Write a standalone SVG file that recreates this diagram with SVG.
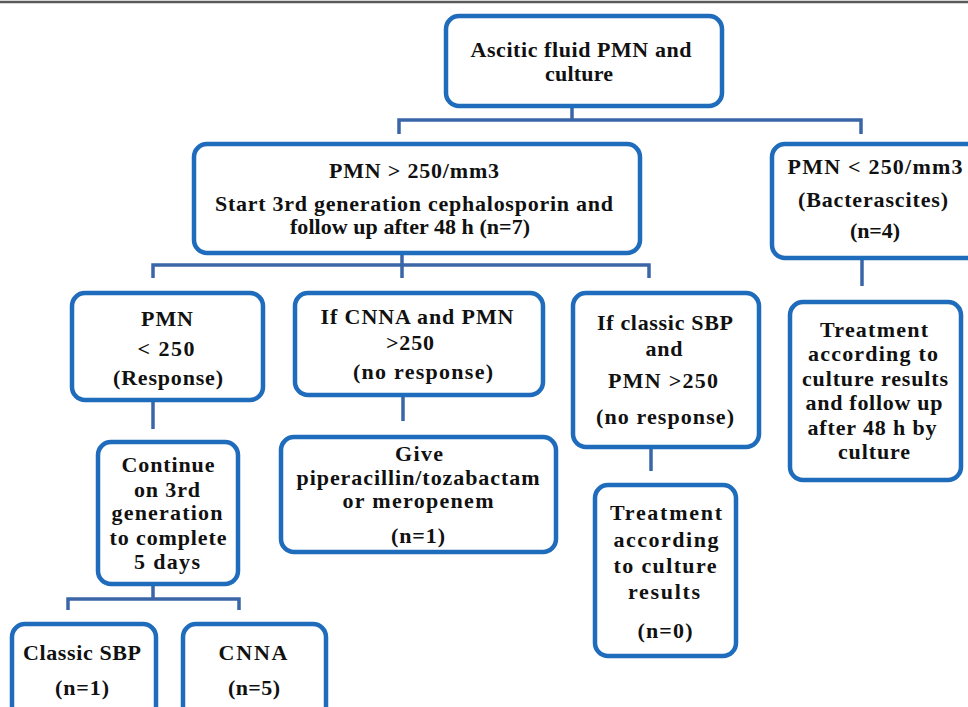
<svg xmlns="http://www.w3.org/2000/svg" width="968" height="707" viewBox="0 0 968 707">
<style>
.box{fill:#fff;stroke:#1f6cbd;stroke-width:4.5}
.t{font-family:"Liberation Serif","Times New Roman",serif;font-weight:bold;font-size:22px;fill:#111;text-anchor:middle;dominant-baseline:central}
.c{fill:none;stroke:#3a66a8;stroke-width:3.5}
</style>
<rect x="0" y="0" width="968" height="707" fill="#fff"/>
<line x1="0" y1="2" x2="968" y2="2" stroke="#5a5a5a" stroke-width="2.5"/>
<g id="connectors">
<path class="c" d="M572,106 V120 M399,134 V120 H861 V134"/>
<path class="c" d="M402,253 V278 M153,278 V265 H649 V278"/>
<path class="c" d="M862,258 V286"/>
<path class="c" d="M153,400 V429"/>
<path class="c" d="M403,395 V421"/>
<path class="c" d="M651,447 V471"/>
<path class="c" d="M153,584 V599 M68,610 V599 H239 V610"/>
</g>
<g id="n_top">
<rect class="box" x="446" y="16" width="276" height="90" rx="13"/>
<text class="t" x="581" y="49" textLength="221" lengthAdjust="spacing">Ascitic fluid PMN and</text>
<text class="t" x="579" y="73" textLength="68" lengthAdjust="spacing">culture</text>
</g>
<g id="n_pmn_gt">
<rect class="box" x="194" y="144" width="446" height="109" rx="13"/>
<text class="t" x="414" y="170" textLength="170" lengthAdjust="spacing">PMN &gt; 250/mm3</text>
<text class="t" x="414" y="203" textLength="398" lengthAdjust="spacing">Start 3rd generation cephalosporin and</text>
<text class="t" x="410" y="226" textLength="240" lengthAdjust="spacing">follow up after 48 h (n=7)</text>
</g>
<g id="n_pmn_lt">
<rect class="box" x="772" y="144" width="214" height="114" rx="13"/>
<text class="t" x="875" y="166" textLength="175" lengthAdjust="spacing">PMN &lt; 250/mm3</text>
<text class="t" x="873" y="199" textLength="150" lengthAdjust="spacing">(Bacterascites)</text>
<text class="t" x="875" y="230" textLength="50" lengthAdjust="spacing">(n=4)</text>
</g>
<g id="n_response">
<rect class="box" x="72" y="293" width="191" height="107" rx="13"/>
<text class="t" x="167" y="318" textLength="52" lengthAdjust="spacing">PMN</text>
<text class="t" x="166" y="348" textLength="57" lengthAdjust="spacing">&lt; 250</text>
<text class="t" x="168" y="377" textLength="110" lengthAdjust="spacing">(Response)</text>
</g>
<g id="n_cnna_nr">
<rect class="box" x="295" y="293" width="248" height="102" rx="13"/>
<text class="t" x="417" y="316" textLength="193" lengthAdjust="spacing">If CNNA and PMN</text>
<text class="t" x="410" y="342" textLength="48" lengthAdjust="spacing">&gt;250</text>
<text class="t" x="423" y="371" textLength="140" lengthAdjust="spacing">(no response)</text>
</g>
<g id="n_sbp_nr">
<rect class="box" x="573" y="293" width="186" height="154" rx="13"/>
<text class="t" x="665" y="322" textLength="136" lengthAdjust="spacing">If classic SBP</text>
<text class="t" x="664" y="348" textLength="37" lengthAdjust="spacing">and</text>
<text class="t" x="663" y="380" textLength="110" lengthAdjust="spacing">PMN &gt;250</text>
<text class="t" x="665" y="416" textLength="138" lengthAdjust="spacing">(no response)</text>
</g>
<g id="n_treat_bact">
<rect class="box" x="790" y="302" width="171" height="178" rx="13"/>
<text class="t" x="874" y="329" textLength="108" lengthAdjust="spacing">Treatment</text>
<text class="t" x="873" y="353" textLength="130" lengthAdjust="spacing">according to</text>
<text class="t" x="875" y="378" textLength="146" lengthAdjust="spacing">culture results</text>
<text class="t" x="874" y="402" textLength="137" lengthAdjust="spacing">and follow up</text>
<text class="t" x="872" y="427" textLength="129" lengthAdjust="spacing">after 48 h by</text>
<text class="t" x="874" y="451" textLength="72" lengthAdjust="spacing">culture</text>
</g>
<g id="n_continue">
<rect class="box" x="98" y="442" width="140" height="142" rx="13"/>
<text class="t" x="168" y="464" textLength="93" lengthAdjust="spacing">Continue</text>
<text class="t" x="167" y="489" textLength="66" lengthAdjust="spacing">on 3rd</text>
<text class="t" x="167" y="512" textLength="111" lengthAdjust="spacing">generation</text>
<text class="t" x="168" y="537" textLength="117" lengthAdjust="spacing">to complete</text>
<text class="t" x="167" y="561" textLength="66" lengthAdjust="spacing">5 days</text>
</g>
<g id="n_give">
<rect class="box" x="281" y="437" width="275" height="115" rx="13"/>
<text class="t" x="419" y="453" textLength="48" lengthAdjust="spacing">Give</text>
<text class="t" x="418" y="477" textLength="243" lengthAdjust="spacing">piperacillin/tozabactam</text>
<text class="t" x="418" y="500" textLength="151" lengthAdjust="spacing">or meropenem</text>
<text class="t" x="418" y="535" textLength="54" lengthAdjust="spacing">(n=1)</text>
</g>
<g id="n_treat_sbp">
<rect class="box" x="595" y="485" width="141" height="171" rx="13"/>
<text class="t" x="666" y="512" textLength="112" lengthAdjust="spacing">Treatment</text>
<text class="t" x="666" y="539" textLength="105" lengthAdjust="spacing">according</text>
<text class="t" x="665" y="565" textLength="103" lengthAdjust="spacing">to culture</text>
<text class="t" x="664" y="591" textLength="72" lengthAdjust="spacing">results</text>
<text class="t" x="665" y="630" textLength="55" lengthAdjust="spacing">(n=0)</text>
</g>
<g id="n_classic">
<rect class="box" x="12" y="624" width="144" height="110" rx="13"/>
<text class="t" x="82" y="652" textLength="118" lengthAdjust="spacing">Classic SBP</text>
<text class="t" x="82" y="687" textLength="54" lengthAdjust="spacing">(n=1)</text>
</g>
<g id="n_cnna">
<rect class="box" x="183" y="624" width="143" height="110" rx="13"/>
<text class="t" x="253" y="652" textLength="69" lengthAdjust="spacing">CNNA</text>
<text class="t" x="254" y="687" textLength="52" lengthAdjust="spacing">(n=5)</text>
</g>
</svg>
